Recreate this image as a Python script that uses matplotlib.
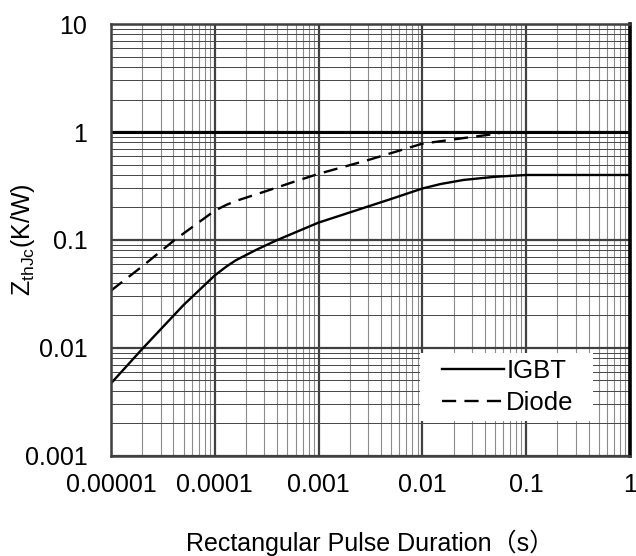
import matplotlib
matplotlib.use("Agg")
import matplotlib.pyplot as plt
from matplotlib.patches import Rectangle
from matplotlib.ticker import FixedLocator, FixedFormatter, LogLocator, NullFormatter

plt.rcParams['font.family'] = ['Liberation Sans', 'Noto Sans CJK SC', 'DejaVu Sans']
plt.rcParams['mathtext.fontset'] = 'custom'
plt.rcParams['mathtext.rm'] = 'Liberation Sans'

# IGBT transient thermal impedance
igbt_t = [1e-5, 2e-5, 5e-5, 1e-4, 1.3e-4, 1.6e-4, 2.5e-4, 4e-4, 1e-3, 2e-3, 5e-3,
          1e-2, 1.5e-2, 2.5e-2, 5e-2, 0.1, 0.15, 1.0]
igbt_z = [0.0047, 0.0098, 0.025, 0.047, 0.057, 0.065, 0.081, 0.1, 0.145, 0.18, 0.24,
          0.30, 0.33, 0.36, 0.385, 0.40, 0.40, 0.40]

# Diode transient thermal impedance
diode_t = [1e-5, 2e-5, 4.1e-5, 1e-4, 1.3e-4, 1.6e-4, 3e-4, 6e-4, 1e-3, 3e-3, 1e-2,
           3e-2, 5.5e-2]
diode_z = [0.034, 0.057, 0.1, 0.187, 0.212, 0.23, 0.28, 0.35, 0.41, 0.55, 0.78,
           0.90, 0.97]

x_ticks = [1e-5, 1e-4, 1e-3, 1e-2, 1e-1, 1]
x_labels = ['0.00001', '0.0001', '0.001', '0.01', '0.1', '1']
y_ticks = [1e-3, 1e-2, 1e-1, 1, 10]
y_labels = ['0.001', '0.01', '0.1', '1', '10']

fig, ax = plt.subplots(figsize=(6.36, 5.56), dpi=100)
fig.subplots_adjust(left=0.1745, right=0.9906, top=0.9568, bottom=0.1799)

ax.set_xscale('log')
ax.set_yscale('log')
ax.set_xlim(1e-5, 1)
ax.set_ylim(1e-3, 10)

ax.xaxis.set_major_locator(FixedLocator(x_ticks))
ax.xaxis.set_major_formatter(FixedFormatter(x_labels))
ax.yaxis.set_major_locator(FixedLocator(y_ticks))
ax.yaxis.set_major_formatter(FixedFormatter(y_labels))
ax.xaxis.set_minor_locator(LogLocator(base=10, subs=range(2, 10), numticks=20))
ax.yaxis.set_minor_locator(LogLocator(base=10, subs=range(2, 10), numticks=20))
ax.xaxis.set_minor_formatter(NullFormatter())
ax.yaxis.set_minor_formatter(NullFormatter())

ax.set_axisbelow(True)
ax.grid(which='major', color='#404040', lw=1.6)
ax.xaxis.grid(which='minor', color='#8c8c8c', lw=0.8)
ax.yaxis.grid(which='minor', color='#454545', lw=0.7)
ax.axhline(1, color='black', lw=2.2, zorder=1.5)

ax.tick_params(which='both', length=0)
ax.tick_params(axis='x', labelsize=18, pad=12)
ax.tick_params(axis='y', labelsize=18, pad=17)

for s in ['left', 'top', 'bottom']:
    ax.spines[s].set_color('#404040')
    ax.spines[s].set_linewidth(1.8)
ax.spines['right'].set_color('black')
ax.spines['right'].set_linewidth(2.6)

ax.plot(igbt_t, igbt_z, color='black', lw=1.7, label='IGBT')
ax.plot(diode_t, diode_z, color='black', lw=1.7, dashes=(6, 3.5), label='Diode')

# white box behind the legend
ax.add_patch(Rectangle((0.595, 0.081), 0.334, 0.157, transform=ax.transAxes,
                       facecolor='white', edgecolor='none', zorder=2.5))
leg = ax.legend(loc='center left', bbox_to_anchor=(0.638, 0.1595), fontsize=18.5,
                frameon=False, handlelength=2.4, handletextpad=0.1,
                labelspacing=0.3, borderpad=0, borderaxespad=0)
leg.set_zorder(3)

ax.set_xlabel('Rectangular Pulse Duration（s）', fontsize=18, labelpad=24)
ax.set_ylabel(r'Z$_{\mathregular{thJc}}$(K/W)', fontsize=18)
ax.yaxis.set_label_coords(-0.1426, 0.5)

fig.savefig('out.png', dpi=100)
